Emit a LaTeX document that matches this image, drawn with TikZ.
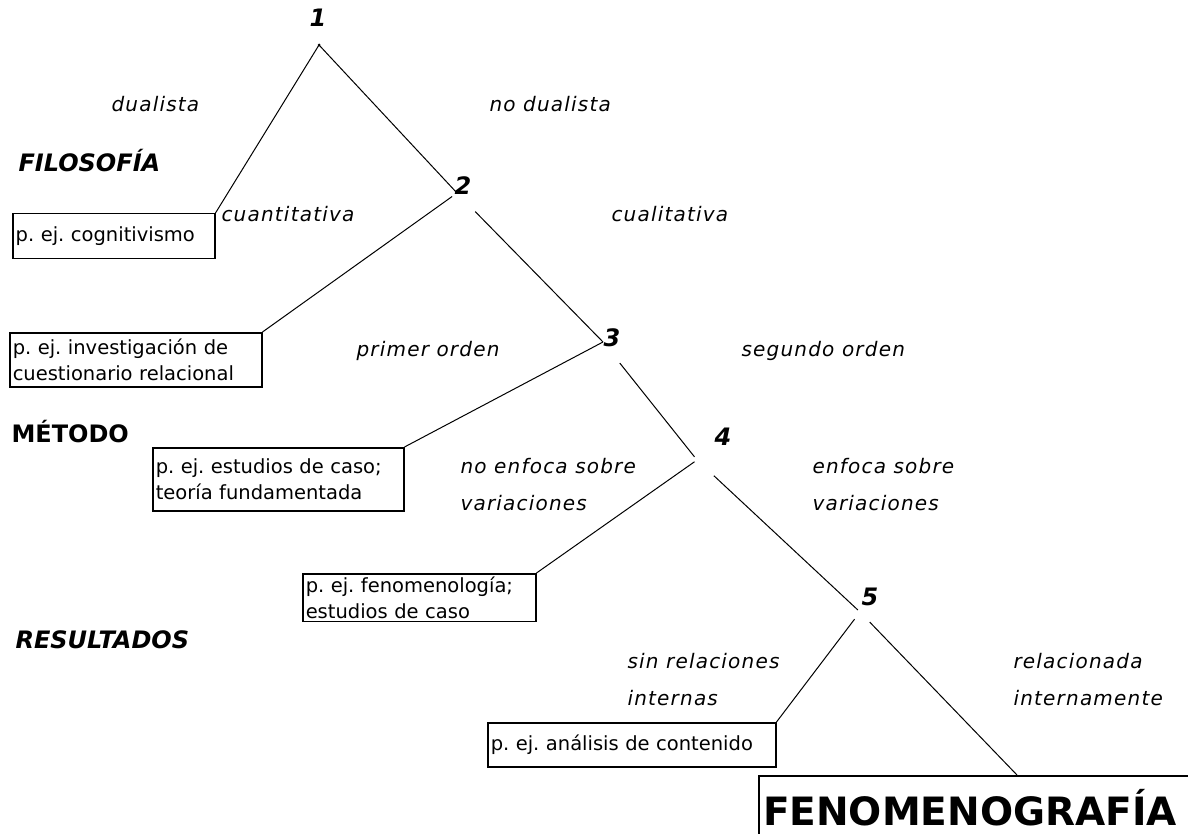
\documentclass[tikz,border=0pt]{standalone}
\usepackage{fontspec}
\setmainfont{DejaVu Sans}
\newfontfamily\lblfont[LetterSpace=6]{DejaVu Sans}
\frenchspacing

\begin{document}
\begin{tikzpicture}[x=1pt,y=-1pt,
    rama/.style={line width=1pt},
    ejbox/.style={draw, line width=1.5pt, anchor=north west, align=left,
        inner sep=3pt, font=\fontsize{19.5}{26}\selectfont},
    etiq/.style={anchor=base west, align=left,
        font=\lblfont\itshape\fontsize{20}{37}\selectfont},
    nivel/.style={anchor=base west, font=\bfseries\fontsize{24}{28}\selectfont},
    num/.style={font=\bfseries\itshape\fontsize{24}{28}\selectfont}]
    \useasboundingbox (0,0) rectangle (1188,834);
    \clip (0,0) rectangle (1188,834);

    \coordinate (j1) at (319,45);
    \coordinate (j2) at (457,193);
    \coordinate (j3) at (603,342);
    \coordinate (j4) at (697,460);
    \coordinate (j5) at (860,612);

    \node[num] (n1) at (318,18) {1};
    \node[num] (n2) at (463,186) {2};
    \node[num] (n3) at (612,338) {3};
    \node[num] (n4) at (723,437) {4};
    \node[num] (n5) at (870,597) {5};

    \node[nivel, font=\bfseries\itshape\fontsize{24}{28}\selectfont] (filo) at (15,172) {FILOSOFÍA};
    \node[nivel] (meto) at (8,442) {MÉTODO};
    \node[nivel, font=\bfseries\itshape\fontsize{24}{28}\selectfont] (resu) at (12,648) {RESULTADOS};

    \node[ejbox, text width=196pt, minimum height=45pt] (b1) at (12,213) {p. ej. cognitivismo};
    \node[ejbox, text width=246pt, minimum height=54pt] (b2) at (9,332) {p. ej. investigación de\\cuestionario relacional};
    \node[ejbox, text width=245pt, minimum height=63pt] (b3) at (152,447) {p. ej. estudios de caso;\\teoría fundamentada};
    \node[ejbox, text width=227pt, minimum height=47pt] (b4) at (302,573) {p. ej. fenomenología;\\estudios de caso};
    \node[ejbox, text width=282pt, minimum height=44pt] (b5) at (487,722) {p. ej. análisis de contenido};
    \node[draw, line width=2pt, anchor=north west, align=left, inner sep=4pt,
        text width=425pt, minimum height=64pt,
        font=\bfseries\fontsize{39}{42}\selectfont] (fen) at (758,775) {FENOMENOGRAFÍA};
    \coordinate (fentop) at (1017,775);

    \node[etiq] (e1) at (108,112) {dualista};
    \node[etiq] (e2) at (486,112) {no dualista};
    \node[etiq] (e3) at (218,222) {cuantitativa};
    \node[etiq] (e4) at (608,222) {cualitativa};
    \node[etiq] (e5) at (353,356) {primer orden};
    \node[etiq] (e6) at (738,356) {segundo orden};
    \node[etiq] (e7) at (457,510) {no enfoca sobre\\variaciones};
    \node[etiq] (e8) at (809,510) {enfoca sobre\\variaciones};
    \node[etiq] (e9) at (624,705) {sin relaciones\\internas};
    \node[etiq] (e10) at (1010,705) {relacionada\\internamente};

    \fill (j1) circle (1.5pt);
    \draw[rama] (j1) -- (b1.north east);
    \draw[rama] (j1) -- (j2);
    \draw[rama, shorten <=6pt] (j2) -- (b2.north east);
    \draw[rama, shorten <=26pt] (j2) -- (j3);
    \draw[rama] (j3) -- (b3.north east);
    \draw[rama, shorten <=27pt, shorten >=4pt] (j3) -- (j4);
    \draw[rama, shorten <=3pt] (j4) -- (b4.north east);
    \draw[rama, shorten <=23pt, shorten >=3pt] (j4) -- (j5);
    \draw[rama, shorten <=9pt] (j5) -- (b5.north east);
    \draw[rama, shorten <=14pt] (j5) -- (fentop);
\end{tikzpicture}
\end{document}
